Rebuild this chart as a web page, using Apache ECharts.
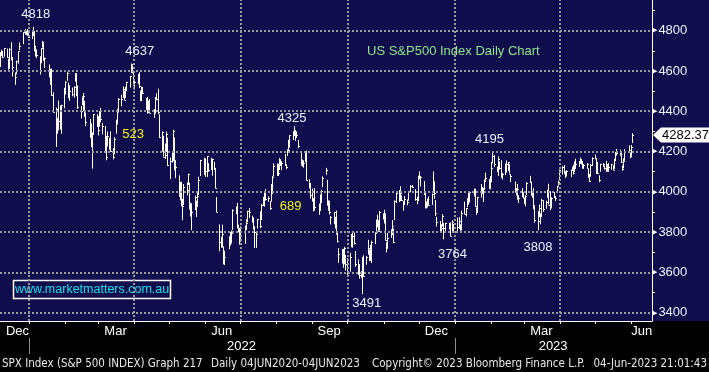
<!DOCTYPE html>
<html><head><meta charset="utf-8">
<script src="https://cdn.jsdelivr.net/npm/echarts@6/dist/echarts.min.js"></script>
<style>html,body{margin:0;padding:0;background:#000;}#c{width:709px;height:372px;}</style>
</head><body><div id="c"></div>
<script>
// ---------------- DATA ----------------
const dates = [
'2021-12-07','2021-12-08','2021-12-09','2021-12-10','2021-12-13','2021-12-14','2021-12-15','2021-12-16','2021-12-17','2021-12-20','2021-12-21','2021-12-22','2021-12-23','2021-12-27','2021-12-28','2021-12-29','2021-12-30','2021-12-31',
'2022-01-03','2022-01-04','2022-01-05','2022-01-06','2022-01-07','2022-01-10','2022-01-11','2022-01-12','2022-01-13','2022-01-14','2022-01-18','2022-01-19','2022-01-20','2022-01-21','2022-01-24','2022-01-25','2022-01-26','2022-01-27','2022-01-28','2022-01-31',
'2022-02-01','2022-02-02','2022-02-03','2022-02-04','2022-02-07','2022-02-08','2022-02-09','2022-02-10','2022-02-11','2022-02-14','2022-02-15','2022-02-16','2022-02-17','2022-02-18','2022-02-22','2022-02-23','2022-02-24','2022-02-25','2022-02-28',
'2022-03-01','2022-03-02','2022-03-03','2022-03-04','2022-03-07','2022-03-08','2022-03-09','2022-03-10','2022-03-11','2022-03-14','2022-03-15','2022-03-16','2022-03-17','2022-03-18','2022-03-21','2022-03-22','2022-03-23','2022-03-24','2022-03-25','2022-03-28','2022-03-29','2022-03-30','2022-03-31',
'2022-04-01','2022-04-04','2022-04-05','2022-04-06','2022-04-07','2022-04-08','2022-04-11','2022-04-12','2022-04-13','2022-04-14','2022-04-18','2022-04-19','2022-04-20','2022-04-21','2022-04-22','2022-04-25','2022-04-26','2022-04-27','2022-04-28','2022-04-29',
'2022-05-02','2022-05-03','2022-05-04','2022-05-05','2022-05-06','2022-05-09','2022-05-10','2022-05-11','2022-05-12','2022-05-13','2022-05-16','2022-05-17','2022-05-18','2022-05-19','2022-05-20','2022-05-23','2022-05-24','2022-05-25','2022-05-26','2022-05-27','2022-05-31',
'2022-06-01','2022-06-02','2022-06-03','2022-06-06','2022-06-07','2022-06-08','2022-06-09','2022-06-10','2022-06-13','2022-06-14','2022-06-15','2022-06-16','2022-06-17','2022-06-21','2022-06-22','2022-06-23','2022-06-24','2022-06-27','2022-06-28','2022-06-29','2022-06-30',
'2022-07-01','2022-07-05','2022-07-06','2022-07-07','2022-07-08','2022-07-11','2022-07-12','2022-07-13','2022-07-14','2022-07-15','2022-07-18','2022-07-19','2022-07-20','2022-07-21','2022-07-22','2022-07-25','2022-07-26','2022-07-27','2022-07-28','2022-07-29',
'2022-08-01','2022-08-02','2022-08-03','2022-08-04','2022-08-05','2022-08-08','2022-08-09','2022-08-10','2022-08-11','2022-08-12','2022-08-15','2022-08-16','2022-08-17','2022-08-18','2022-08-19','2022-08-22','2022-08-23','2022-08-24','2022-08-25','2022-08-26','2022-08-29','2022-08-30','2022-08-31',
'2022-09-01','2022-09-02','2022-09-06','2022-09-07','2022-09-08','2022-09-09','2022-09-12','2022-09-13','2022-09-14','2022-09-15','2022-09-16','2022-09-19','2022-09-20','2022-09-21','2022-09-22','2022-09-23','2022-09-26','2022-09-27','2022-09-28','2022-09-29','2022-09-30',
'2022-10-03','2022-10-04','2022-10-05','2022-10-06','2022-10-07','2022-10-10','2022-10-11','2022-10-12','2022-10-13','2022-10-14','2022-10-17','2022-10-18','2022-10-19','2022-10-20','2022-10-21','2022-10-24','2022-10-25','2022-10-26','2022-10-27','2022-10-28','2022-10-31',
'2022-11-01','2022-11-02','2022-11-03','2022-11-04','2022-11-07','2022-11-08','2022-11-09','2022-11-10','2022-11-11','2022-11-14','2022-11-15','2022-11-16','2022-11-17','2022-11-18','2022-11-21','2022-11-22','2022-11-23','2022-11-25','2022-11-28','2022-11-29','2022-11-30',
'2022-12-01','2022-12-02','2022-12-05','2022-12-06','2022-12-07','2022-12-08','2022-12-09','2022-12-12','2022-12-13','2022-12-14','2022-12-15','2022-12-16','2022-12-19','2022-12-20','2022-12-21','2022-12-22','2022-12-23','2022-12-27','2022-12-28','2022-12-29','2022-12-30',
'2023-01-03','2023-01-04','2023-01-05','2023-01-06','2023-01-09','2023-01-10','2023-01-11','2023-01-12','2023-01-13','2023-01-17','2023-01-18','2023-01-19','2023-01-20','2023-01-23','2023-01-24','2023-01-25','2023-01-26','2023-01-27','2023-01-30','2023-01-31',
'2023-02-01','2023-02-02','2023-02-03','2023-02-06','2023-02-07','2023-02-08','2023-02-09','2023-02-10','2023-02-13','2023-02-14','2023-02-15','2023-02-16','2023-02-17','2023-02-21','2023-02-22','2023-02-23','2023-02-24','2023-02-27','2023-02-28',
'2023-03-01','2023-03-02','2023-03-03','2023-03-06','2023-03-07','2023-03-08','2023-03-09','2023-03-10','2023-03-13','2023-03-14','2023-03-15','2023-03-16','2023-03-17','2023-03-20','2023-03-21','2023-03-22','2023-03-23','2023-03-24','2023-03-27','2023-03-28','2023-03-29','2023-03-30','2023-03-31',
'2023-04-03','2023-04-04','2023-04-05','2023-04-06','2023-04-10','2023-04-11','2023-04-12','2023-04-13','2023-04-14','2023-04-17','2023-04-18','2023-04-19','2023-04-20','2023-04-21','2023-04-24','2023-04-25','2023-04-26','2023-04-27','2023-04-28',
'2023-05-01','2023-05-02','2023-05-03','2023-05-04','2023-05-05','2023-05-08','2023-05-09','2023-05-10','2023-05-11','2023-05-12','2023-05-15','2023-05-16','2023-05-17','2023-05-18','2023-05-19','2023-05-22','2023-05-23','2023-05-24','2023-05-25','2023-05-26','2023-05-30','2023-05-31',
'2023-06-01','2023-06-02'
];
const highs = [
4694,4705,4695,4713,4711,4660,4712,4743,4666,4592,4651,4697,4741,4791,4808,4799,4808,4787,
4797,4819,4798,4725,4707,4673,4714,4749,4744,4666,4632,4611,4612,4494,4418,4366,4453,4429,4432,4516,
4550,4596,4542,4529,4518,4524,4590,4588,4528,4426,4473,4490,4452,4394,4362,4340,4295,4385,4385,
4375,4401,4417,4342,4327,4277,4299,4268,4300,4218,4271,4358,4412,4465,4482,4523,4502,4521,4546,4576,4637,4627,4603,
4549,4584,4593,4503,4521,4521,4465,4471,4453,4460,4411,4471,4489,4512,4385,4299,4278,4240,4300,4269,
4170,4201,4308,4270,4157,4082,4049,4050,3964,4039,4047,4090,4045,3946,3943,3981,3956,3999,4075,4159,4169,
4166,4177,4142,4169,4164,4149,4119,3974,3838,3778,3837,3729,3708,3779,3800,3808,3913,3927,3945,3837,3818,
3829,3832,3864,3906,3919,3881,3874,3829,3796,3864,3903,3940,3975,3999,4013,3977,3954,4039,4079,4141,
4140,4140,4167,4162,4152,4187,4138,4211,4258,4280,4301,4325,4302,4300,4258,4196,4160,4156,4200,4204,4062,4044,4016,
3970,4018,3942,3987,4010,4077,4119,4060,3958,3956,3880,3901,3876,3907,3800,3721,3716,3717,3727,3687,3671,
3698,3791,3806,3798,3706,3665,3641,3606,3677,3685,3681,3762,3713,3737,3757,3799,3862,3886,3859,3905,3893,
3911,3894,3750,3796,3814,3860,3818,3957,4001,4009,4028,3983,3954,3979,3962,4005,4033,4034,4013,3976,4080,
4101,4077,4053,4002,3952,3966,3977,3991,4101,4053,3959,3876,3855,3839,3889,3846,3846,3846,3848,3858,3840,
3873,3874,3839,3907,3951,3920,3970,3997,4003,4016,4015,3922,3973,4039,4024,4020,4061,4095,4063,4077,
4149,4195,4183,4125,4176,4150,4157,4094,4140,4156,4148,4137,4083,4051,4018,4039,3983,4018,3997,
3972,3984,4048,4079,4051,4000,4018,3934,3905,3937,3894,3965,3958,3956,4010,4040,4003,3973,3999,3980,4030,4055,4110,
4128,4133,4099,4107,4110,4125,4134,4151,4164,4153,4170,4163,4148,4138,4143,4117,4089,4139,4171,
4185,4164,4148,4082,4139,4143,4131,4154,4132,4143,4139,4131,4164,4198,4213,4210,4187,4131,4166,4212,4231,4195,
4233,4291
];
const lows = [
4620,4674,4665,4671,4666,4606,4611,4652,4572,4531,4583,4636,4703,4733,4780,4778,4775,4765,
4758,4774,4699,4671,4663,4582,4638,4716,4651,4614,4568,4530,4477,4395,4223,4288,4305,4309,4288,4414,
4483,4550,4465,4452,4474,4467,4547,4475,4412,4364,4430,4400,4373,4327,4268,4222,4115,4287,4322,
4280,4323,4345,4285,4199,4157,4225,4209,4200,4161,4187,4288,4335,4393,4425,4466,4456,4465,4501,4517,4589,4589,4530,
4507,4534,4515,4450,4450,4487,4408,4387,4395,4392,4367,4390,4455,4385,4267,4200,4175,4163,4197,4129,
4063,4145,4152,4107,4068,3975,3957,3928,3859,3935,3983,4034,3912,3877,3810,3909,3875,3925,3985,4078,4084,
4074,4074,4099,4109,4080,4107,4017,3900,3705,3723,3723,3640,3637,3715,3733,3743,3810,3889,3820,3799,3738,
3752,3742,3810,3850,3870,3847,3812,3721,3722,3818,3820,3860,3930,3926,3956,3951,3910,3951,3989,4077,
4079,4079,4108,4128,4107,4128,4112,4178,4201,4219,4257,4277,4253,4267,4218,4130,4127,4120,4147,4057,4017,3966,3954,
3903,3907,3886,3907,3944,4023,4084,3933,3906,3887,3838,3839,3818,3789,3749,3648,3644,3623,3641,3610,3585,
3604,3725,3723,3739,3628,3588,3569,3571,3492,3580,3639,3688,3657,3656,3647,3741,3799,3824,3804,3808,3863,
3843,3759,3699,3721,3772,3786,3745,3859,3944,3949,3954,3955,3906,3934,3933,3956,3998,4020,3956,3938,3956,
4062,4027,3985,3918,3917,3922,3933,3935,3994,3966,3880,3827,3800,3796,3828,3764,3798,3813,3781,3806,3800,
3795,3816,3803,3809,3890,3878,3924,3937,3947,3977,3926,3886,3900,3971,3990,3950,4013,4049,4015,4012,
4047,4141,4124,4098,4079,4111,4070,4061,4083,4095,4104,4091,4048,3996,3982,3961,3944,3974,3968,
3939,3928,3984,4045,3981,3970,3914,3847,3809,3874,3839,3875,3901,3916,3971,3937,3909,3918,3970,3954,3998,4032,4057,
4086,4087,4069,4076,4073,4106,4087,4099,4113,4124,4139,4136,4115,4114,4114,4071,4049,4075,4128,
4161,4089,4088,4048,4100,4123,4110,4098,4100,4099,4110,4109,4114,4153,4180,4179,4145,4104,4117,4155,4192,4166,
4172,4242
];
const closes = [
4687,4701,4667,4712,4669,4634,4710,4669,4621,4568,4649,4697,4726,4791,4786,4793,4779,4766,
4797,4794,4701,4696,4677,4670,4713,4726,4659,4663,4577,4533,4483,4398,4410,4356,4350,4327,4432,4516,
4547,4589,4477,4501,4484,4522,4587,4504,4419,4402,4471,4475,4380,4349,4305,4226,4289,4385,4374,
4306,4387,4363,4329,4201,4171,4278,4260,4204,4173,4262,4358,4412,4463,4461,4512,4456,4520,4543,4576,4632,4602,4530,
4546,4583,4525,4481,4500,4488,4413,4397,4447,4393,4392,4462,4459,4394,4272,4296,4175,4184,4288,4132,
4155,4175,4300,4147,4123,3991,4001,3935,3930,4024,4008,4089,3924,3901,3901,3974,3941,3979,4058,4158,4132,
4101,4177,4109,4121,4161,4116,4018,3901,3750,3735,3790,3667,3675,3765,3760,3796,3912,3900,3822,3819,3785,
3825,3831,3845,3903,3899,3854,3819,3802,3790,3863,3831,3937,3960,3999,3962,3967,3921,4024,4072,4130,
4119,4091,4155,4152,4145,4140,4122,4210,4207,4280,4297,4305,4274,4284,4228,4138,4129,4141,4199,4058,4031,3986,3955,
3967,3924,3908,3980,4006,4067,4110,3933,3946,3901,3873,3900,3856,3790,3758,3693,3655,3647,3719,3640,3586,
3678,3791,3783,3745,3640,3612,3589,3577,3670,3583,3678,3720,3695,3666,3753,3797,3859,3831,3807,3901,3872,
3856,3760,3720,3771,3807,3828,3749,3956,3993,3957,3992,3959,3947,3965,3950,4004,4027,4026,3964,3958,4080,
4077,4072,3999,3941,3934,3964,3934,3991,4020,3995,3896,3852,3818,3822,3878,3822,3845,3829,3783,3849,3840,
3824,3853,3808,3895,3892,3919,3970,3983,3999,3991,3929,3899,3973,4020,4017,4016,4060,4071,4018,4077,
4119,4180,4136,4111,4164,4118,4082,4090,4137,4136,4148,4090,4079,3997,3991,4012,3970,3982,3970,
3951,3981,4046,4048,3986,3992,3918,3862,3856,3919,3892,3960,3917,3952,4003,3937,3949,3971,3978,3971,4028,4051,4109,
4125,4101,4090,4105,4109,4109,4092,4146,4138,4151,4155,4155,4130,4134,4137,4072,4056,4135,4169,
4168,4120,4091,4061,4136,4138,4119,4138,4131,4124,4136,4110,4159,4198,4192,4193,4146,4115,4151,4205,4206,4180,
4221,4282.37
];

// axis ticks / labels
const yTickValues = [3400,3500,3600,3700,3800,3900,4000,4100,4200,4300,4400,4500,4600,4700,4800,4900];
const yLabelValues = [3400,3600,3800,4000,4200,4400,4600,4800];
const yGridValues = [3400,3600,3800,4000,4200,4400,4600,4800];
const monthTickDates = ['2022-01-01','2022-02-01','2022-03-01','2022-04-01','2022-05-01','2022-06-01','2022-07-01','2022-08-01','2022-09-01','2022-10-01','2022-11-01','2022-12-01','2023-01-01','2023-02-01','2023-03-01','2023-04-01','2023-05-01','2023-06-01'];
const monthLabelDates = ['2021-12-22','2022-03-16','2022-06-15','2022-09-15','2022-12-16','2023-03-16','2023-06-10'];
const quarterGridDates = ['2022-01-01','2022-04-01','2022-07-01','2022-10-01','2023-01-01','2023-04-01'];
const yearTickDates = ['2022-01-01','2023-01-01'];
const yearLabelDates = ['2022-07-02','2023-03-26'];
const xMin = '2021-12-07';
const xMax = '2023-06-18 18:00';
const yMin = 3359, yMax = 4952;

// annotations (text anchored to data)
const peakDates = ['2022-01-04','2022-03-29','2022-08-16','2023-02-02','2022-12-22','2023-03-13','2022-10-13'];
const peakValues = [4818,4637,4325,4195,3764,3808,3491];
const peakTexts = ['4818','4637','4325','4195','3764','3808','3491'];
const moveDates = ['2022-03-31','2022-08-13'];
const moveValues = [4287,3930];
const moveTexts = ['523','689'];
const lastClose = closes[closes.length - 1];

// ---------------- LAYOUT / STYLE ----------------
const peakOffsets = [[3,-13],[9,-12],[-2,-8],[-3,-13],[9,15],[0,17],[5,9]];
const NAVY = '#0f0d4c';
const FONT = "'Liberation Sans', Arial, sans-serif";
const FOOT = "'DejaVu Sans Condensed', 'DejaVu Sans', sans-serif";
const MONTHS = ['Jan','Feb','Mar','Apr','May','Jun','Jul','Aug','Sep','Oct','Nov','Dec'];
const TAG_PATH = 'path://M0,7.5 L8,0 L57,0 L57,15 L8,15 Z';

const P = echarts.number.parseDate;
const ts = s => +P(s);

const chart = echarts.init(document.getElementById('c'));
const barData = dates.map((d, i) => [ts(d), lows[i], highs[i], closes[i]]);

const peakPoints = peakTexts.map((t, i) => ({
  coord: [ts(peakDates[i]), peakValues[i]], value: t,
  label: {show: true, position: 'inside', offset: peakOffsets[i], formatter: t,
          color: '#e9f1ff', fontSize: 13, fontFamily: FONT}
}));
const movePoints = moveTexts.map((t, i) => ({
  coord: [ts(moveDates[i]), moveValues[i]], value: t,
  label: {show: true, position: 'inside', formatter: t,
          color: '#f2f21a', fontSize: 13, fontFamily: FONT}
}));

const option = {
  backgroundColor: NAVY,
  animation: false,
  grid: {left: 0, right: 57, top: 0, bottom: 51, containLabel: false, outerBoundsMode: 'none'},
  xAxis: [
    {
      type: 'value', min: ts(xMin), max: ts(xMax), position: 'bottom',
      axisLine: {show: true, onZero: false, lineStyle: {color: '#ffffff', width: 1}},
      axisTick: {show: true, customValues: monthTickDates.map(ts), length: 3, inside: false, lineStyle: {color: '#ffffff'}},
      axisLabel: {show: true, customValues: monthLabelDates.map(ts), formatter: v => MONTHS[P(v).getMonth()],
                  color: '#ffffff', fontFamily: FONT, fontSize: 13, margin: 4, hideOverlap: false,
                  showMinLabel: true, showMaxLabel: true},
      splitLine: {show: false}
    },
    {
      type: 'value', min: ts(xMin), max: ts(xMax), position: 'bottom', offset: 17, gridIndex: 0,
      axisLine: {show: false, onZero: false},
      axisTick: {show: true, customValues: yearTickDates.map(ts), length: 16, inside: false, lineStyle: {color: '#8c8c8c'}},
      axisLabel: {show: true, customValues: yearLabelDates.map(ts), formatter: v => String(P(v).getFullYear()),
                  color: '#ffffff', fontFamily: FONT, fontSize: 13, margin: 2},
      splitLine: {show: false}
    }
  ],
  yAxis: {
    type: 'value', position: 'right', min: yMin, max: yMax,
    axisLine: {show: true, lineStyle: {color: '#ffffff', width: 1}},
    axisTick: {show: true, customValues: yTickValues, length: 3, inside: false, lineStyle: {color: '#ffffff'}},
    axisLabel: {show: true, customValues: yLabelValues, margin: 0,
      formatter: v => '{t|\u25B6}{v|' + v + '}',
      rich: {
        t: {fontSize: 7, color: '#ffffff', fontFamily: 'DejaVu Sans', padding: [0, 1, 0, 0]},
        v: {fontSize: 13, color: '#eef3ff', fontFamily: FONT}
      }},
    splitLine: {show: false}
  },
  series: [
    {
      type: 'line', data: [], silent: true, z: 1, xAxisIndex: 0, yAxisIndex: 0,
      markLine: {
        silent: true, symbol: 'none', animation: false,
        label: {show: false},
        emphasis: {disabled: true},
        lineStyle: {color: '#9b9b9b', type: [2, 2], width: 2},
        data: yGridValues.map(v => ({yAxis: v})).concat(quarterGridDates.map(d => ({xAxis: ts(d)})))
      }
    },
    {
      type: 'custom', z: 2, xAxisIndex: 0, yAxisIndex: 0, clip: true,
      data: barData,
      encode: {x: 0, y: [1, 2, 3]},
      renderItem: function (params, api) {
        const t = api.value(0);
        const pL = api.coord([t, api.value(1)]);
        const pH = api.coord([t, api.value(2)]);
        const pC = api.coord([t, api.value(3)]);
        const x = Math.round(pL[0]) + 0.5;
        const yc = Math.round(pC[1]) + 0.5;
        return {type: 'group', children: [
          {type: 'line', shape: {x1: x, y1: pH[1], x2: x, y2: pL[1]}, style: {stroke: '#ffffff', lineWidth: 1}},
          {type: 'line', shape: {x1: x, y1: yc, x2: x + 1.5, y2: yc}, style: {stroke: '#ffffff', lineWidth: 1}}
        ]};
      },
      markPoint: {
        silent: true, animation: false, symbol: 'circle', symbolSize: 0,
        data: peakPoints.concat(movePoints)
      }
    },
    {
      type: 'line', data: [], silent: true, z: 5, xAxisIndex: 0, yAxisIndex: 0, clip: false,
      markPoint: {
        silent: true, animation: false,
        symbol: TAG_PATH, symbolSize: [57, 15], symbolKeepAspect: false, symbolOffset: [29.5, 0],
        itemStyle: {color: '#ffffff'},
        label: {show: true, position: 'inside', offset: [4, 0.5], color: '#000000', fontSize: 13, fontFamily: FONT,
                formatter: lastClose.toFixed(2)},
        data: [{coord: [ts(xMax), lastClose], value: lastClose}]
      }
    }
  ],
  graphic: [
    {type: 'rect', z: -10, silent: true, shape: {x: 0, y: 321, width: 709, height: 51}, style: {fill: '#000000'}},
    {type: 'text', silent: true, x: 367, y: 51,
     style: {text: 'US S&P500 Index Daily Chart', fill: '#8fe68f', fontSize: 13, fontFamily: FONT, align: 'left', verticalAlign: 'middle', textAlign: 'left', textVerticalAlign: 'middle'}},
    {type: 'rect', silent: true, shape: {x: 13.5, y: 280.5, width: 157, height: 18}, style: {fill: NAVY, stroke: '#ffffff', lineWidth: 1.5}},
    {type: 'text', silent: true, x: 15, y: 290,
     style: {text: 'www.marketmatters.com.au', fill: '#14e0f0', fontSize: 12.5, fontFamily: FONT, align: 'left', verticalAlign: 'middle', textAlign: 'left', textVerticalAlign: 'middle'}},
    {type: 'text', silent: true, x: 2, y: 364,
     style: {text: 'SPX Index (S&P 500 INDEX) Graph 217', fill: '#e8e8e8', fontSize: 11.5, fontFamily: FOOT, align: 'left', verticalAlign: 'middle', textAlign: 'left', textVerticalAlign: 'middle'}},
    {type: 'text', silent: true, x: 211, y: 364,
     style: {text: 'Daily 04JUN2020-04JUN2023', fill: '#e8e8e8', fontSize: 11.5, fontFamily: FOOT, align: 'left', verticalAlign: 'middle', textAlign: 'left', textVerticalAlign: 'middle'}},
    {type: 'text', silent: true, x: 372, y: 364,
     style: {text: 'Copyright\u00A9 2023 Bloomberg Finance L.P.', fill: '#e8e8e8', fontSize: 11.5, fontFamily: FOOT, align: 'left', verticalAlign: 'middle', textAlign: 'left', textVerticalAlign: 'middle'}},
    {type: 'text', silent: true, x: 707, y: 364,
     style: {text: '04-Jun-2023 21:01:43', fill: '#e8e8e8', fontSize: 11.5, fontFamily: FOOT, align: 'right', verticalAlign: 'middle', textAlign: 'right', textVerticalAlign: 'middle'}}
  ]
};
chart.setOption(option);
</script>
</body></html>
